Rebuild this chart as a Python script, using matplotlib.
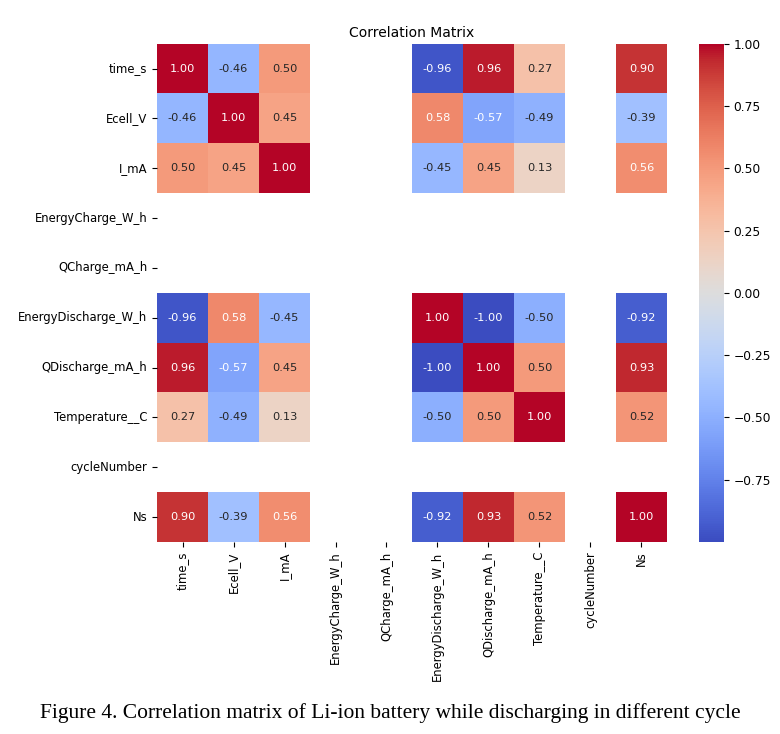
import numpy as np
import matplotlib
matplotlib.use("Agg")
import matplotlib.pyplot as plt
import seaborn as sns

labels = ["time_s", "Ecell_V", "I_mA", "EnergyCharge_W_h", "QCharge_mA_h",
          "EnergyDischarge_W_h", "QDischarge_mA_h", "Temperature__C",
          "cycleNumber", "Ns"]
nan = np.nan
row_time_s      = [1.00, -0.46, 0.50, nan, nan, -0.96, 0.96, 0.27, nan, 0.90]
row_ecell       = [-0.46, 1.00, 0.45, nan, nan, 0.58, -0.57, -0.49, nan, -0.39]
row_imA         = [0.50, 0.45, 1.00, nan, nan, -0.45, 0.45, 0.13, nan, 0.56]
row_echarge     = [nan] * 10
row_qcharge     = [nan] * 10
row_edischarge  = [-0.96, 0.58, -0.45, nan, nan, 1.00, -1.00, -0.50, nan, -0.92]
row_qdischarge  = [0.96, -0.57, 0.45, nan, nan, -1.00, 1.00, 0.50, nan, 0.93]
row_temperature = [0.27, -0.49, 0.13, nan, nan, -0.50, 0.50, 1.00, nan, 0.52]
row_cycle       = [nan] * 10
row_ns          = [0.90, -0.39, 0.56, nan, nan, -0.92, 0.93, 0.52, nan, 1.00]

corr = np.array([row_time_s, row_ecell, row_imA, row_echarge, row_qcharge,
                 row_edischarge, row_qdischarge, row_temperature, row_cycle, row_ns])

fig = plt.figure(figsize=(7.8, 7.34), dpi=100)
ax = fig.add_axes([0.2013, 0.2616, 0.6538, 0.679])
cax = fig.add_axes([0.896, 0.2616, 0.032, 0.679])

sns.heatmap(corr, ax=ax, cbar_ax=cax, cmap="coolwarm", annot=True, fmt=".2f",
            vmin=-0.9999, vmax=1.0, xticklabels=labels, yticklabels=labels,
            annot_kws={"fontsize": 8.2})
ax.set_title("Correlation Matrix", fontsize=10, pad=5)
ax.tick_params(axis="both", labelsize=8.4)
plt.setp(ax.get_xticklabels(), rotation=90)
plt.setp(ax.get_yticklabels(), rotation=0)
cax.set_yticks([-0.75, -0.5, -0.25, 0.0, 0.25, 0.5, 0.75, 1.0])
cax.tick_params(labelsize=8.8)

fig.text(0.5, 0.028, "Figure 4. Correlation matrix of Li-ion battery while discharging in different cycle",
         ha="center", va="center", family="Liberation Serif", fontsize=15.5)

fig.savefig("out.png", dpi=100)
